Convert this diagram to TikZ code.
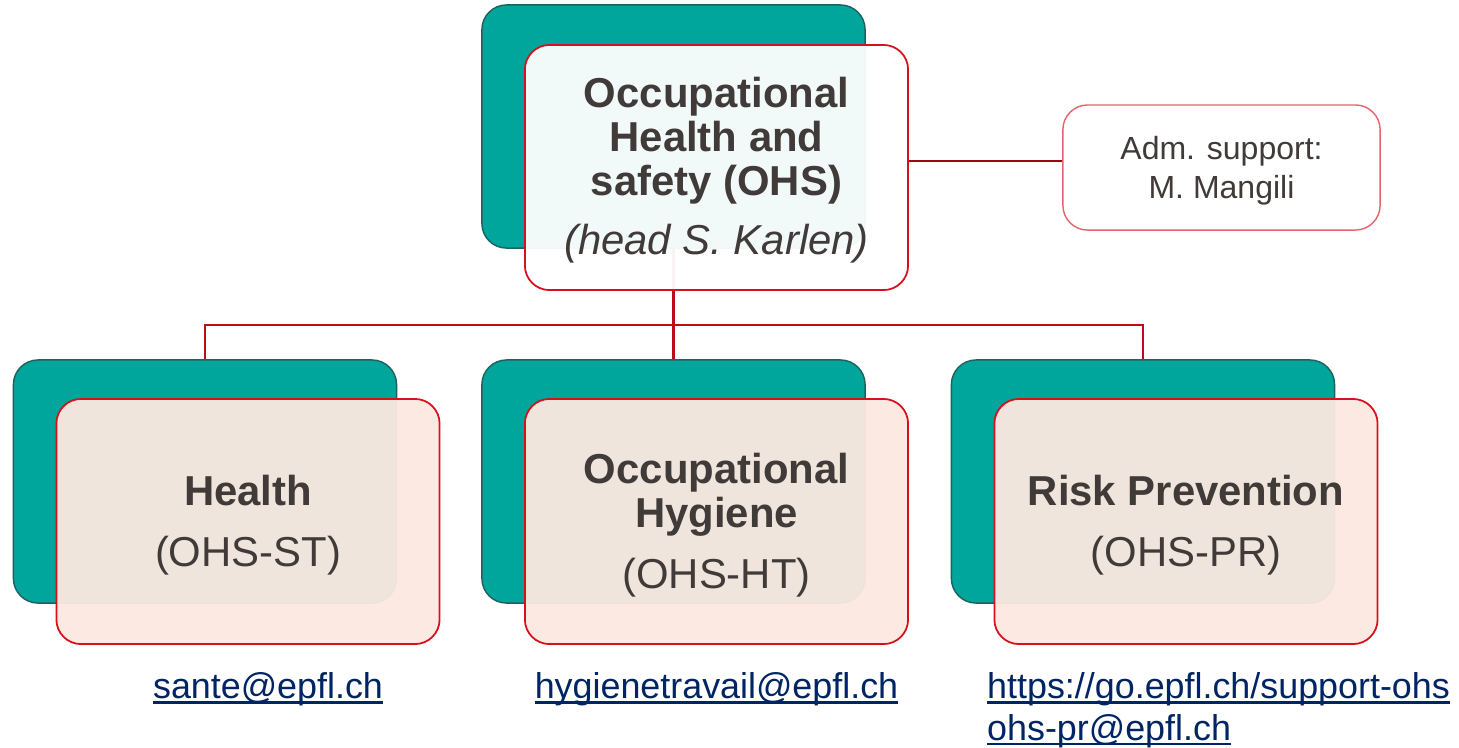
\documentclass[tikz,border=0pt]{standalone}
\usepackage{fontspec}
\setmainfont{Liberation Sans}
\usetikzlibrary{positioning}
\pgfdeclarelayer{background}
\pgfsetlayers{background,main}

\definecolor{ohsteal}{RGB}{0,165,156}
\definecolor{ohstealdark}{RGB}{28,98,94}
\definecolor{ohsred}{RGB}{214,16,28}
\definecolor{ohsline}{RGB}{192,10,22}
\definecolor{ohspink}{RGB}{252,233,224}
\definecolor{ohstext}{RGB}{64,58,56}
\definecolor{ohslink}{RGB}{0,36,100}

% underlined link text, rule close to the baseline
\newcommand{\linkul}[1]{\setbox0\hbox{#1}\rlap{\rule[-1.4pt]{\wd0}{0.6pt}}\box0}
% a little room above the first line of a box
\newcommand{\topgap}[1]{\rule{0pt}{#1}}

\tikzset{
  backbox/.style={draw=ohstealdark, fill=ohsteal, line width=0.4pt,
    rounded corners=7pt, minimum width=3.83cm, minimum height=2.43cm},
  unitbox/.style={draw=ohsred, fill=ohspink, fill opacity=0.95, text opacity=1,
    line width=0.5pt, rounded corners=7pt, minimum width=3.83cm,
    minimum height=2.45cm, align=center, text=ohstext,
    font=\fontsize{11.9}{12.5}\selectfont},
  headbox/.style={unitbox, fill=white},
  admbox/.style={draw=ohsred!65, fill=white, line width=0.4pt,
    rounded corners=7pt, minimum width=3.17cm, minimum height=1.25cm,
    align=center, text=ohstext, font=\fontsize{9.1}{11.3}\selectfont},
  link/.style={inner sep=0pt, text=ohslink,
    font=\fontsize{10.2}{11.9}\selectfont},
  conn/.style={draw=ohsline, line width=0.6pt}
}

\begin{document}
\begin{tikzpicture}[x=0.01cm, y=-0.01cm]
  \useasboundingbox (0,0) rectangle (1459,747);

  % Define nodes
  \node[backbox] (ohsback)    at (673.5,126.5) {};
  \node[backbox] (healthback) at (205,481.5) {};
  \node[backbox] (hygback)    at (673.5,481.5) {};
  \node[backbox] (riskback)   at (1143,481.5) {};

  \node[headbox] (ohs) at ([shift={(43,41)}]ohsback)
    {\topgap{10.2pt}\textbf{Occupational}\\\textbf{Health and}\\\textbf{safety (OHS)}\\[4.5pt]\textit{(head S. Karlen)}};
  \node[admbox] (adm) at (1221.5,167.5) {\topgap{8.4pt}Adm. support:\\M. Mangili};

  \node[unitbox] (health) at ([shift={(43,40)}]healthback)
    {\topgap{10.7pt}\textbf{Health}\\[5pt](OHS-ST)};
  \node[unitbox] (hyg) at ([shift={(43,40)}]hygback)
    {\topgap{10.7pt}\textbf{Occupational}\\\textbf{Hygiene}\\[5pt](OHS-HT)};
  \node[unitbox] (risk) at ([shift={(43,40)}]riskback)
    {\topgap{10.7pt}\textbf{Risk Prevention}\\[5pt](OHS-PR)};

  \node[link, below=0.27cm of health, xshift=0.2cm] (healthlink) {\linkul{sante@epfl.ch}};
  \node[link, below=0.27cm of hyg] (hyglink) {\linkul{hygienetravail@epfl.ch}};
  \node[link, anchor=north west, align=left] (risklink) at ([shift={(-7,27)}]risk.south west)
    {\linkul{https://go.epfl.ch/support-ohs}\\\linkul{ohs-pr@epfl.ch}};

  % Connect the nodes
  \begin{pgfonlayer}{background}
    \coordinate (bus) at (673.5,325);
    \draw[conn] (ohsback.south) -- (bus);
    \draw[conn] (bus) -| (healthback.north);
    \draw[conn] (bus) -- (hygback.north);
    \draw[conn] (bus) -| (riskback.north);
    \draw[conn, draw=ohsline!80!black] (ohs.east |- 0,161) -- (adm.west |- 0,161);
  \end{pgfonlayer}

\end{tikzpicture}
\end{document}
